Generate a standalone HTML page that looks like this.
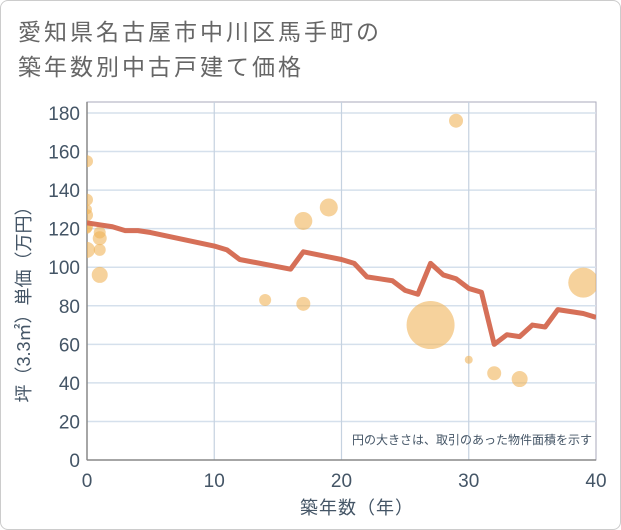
<!DOCTYPE html>
<html><head><meta charset="utf-8"><style>
body{margin:0;background:#fff;font-family:"Liberation Sans","Noto Sans CJK JP",sans-serif}
#wrap{position:relative;width:619px;height:528px;border:1px solid #ccc;border-radius:8px;overflow:hidden;background:#fff}
#title{position:absolute;left:17px;top:14px;font-size:23px;line-height:35px;color:#666;letter-spacing:3px}
</style></head><body>
<div id="wrap">
<div id="title">愛知県名古屋市中川区馬手町の<br>築年数別中古戸建て価格</div>
<svg id="chart" width="621" height="530" style="position:absolute;left:-1px;top:-1px"></svg>
</div>
<script>
const xTicks=[0,10,20,30,40];
const yTicks=[0,20,40,60,80,100,120,140,160,180];
const lineX=[0,1,2,3,4,5,10,11,12,16,17,20,21,22,24,25,26,27,28,29,30,31,32,33,34,35,36,37,39,40];
const lineY=[123,122,121,119,119,118,111,109,104,99,108,104,102,95,93,88,86,102,96,94,89,87,60,65,64,70,69,78,76,74];
const bubX=[0,0,0,0,0,0,0,1,1,1,1,14,17,17,19,27,29,30,32,34,39];
const bubY=[155,135,130,127,121,120,109,118,115,109,96,83,124,81,131,70,176,52,45,42,92];
const bubR=[6,6,5,6,6,5,8,6,7,6,8,6,9,7,9,24,7,4,7,8,15];
const NS="http://www.w3.org/2000/svg";
const svg=document.getElementById('chart');
const X0=87,X1=596,Y0=460,Y1=113;
const sx=v=>X0+(v-0)/(40-0)*(X1-X0);
const sy=v=>Y0-(v-0)/(180-0)*(Y0-Y1);
function mk(t,a){const e=document.createElementNS(NS,t);for(const k in a)e.setAttribute(k,a[k]);svg.appendChild(e);return e;}
let e;
e=mk('rect',{x:X0,y:102,width:X1-X0,height:Y0-102,fill:'#fff',stroke:'#aab','stroke-width':1});


yTicks.forEach(v=>{
 if(v>0){e=mk('line',{x1:X0,x2:X1,y1:sy(v),y2:sy(v),stroke:'#d5e0ec','stroke-width':1.5});
 
 }
 e=mk('text',{x:X0-7,y:sy(v)+7,'text-anchor':'end','font-size':19,fill:'#445566'});e.textContent=v;
 
 
});
xTicks.forEach(v=>{
 if(v>0&&v<40){e=mk('line',{x1:sx(v),x2:sx(v),y1:102,y2:Y0,stroke:'#c5d2e0','stroke-width':1.2});
 
 }
 e=mk('text',{x:sx(v),y:Y0+27,'text-anchor':'middle','font-size':19,fill:'#445566'});e.textContent=v;
 
 
});
e=mk('line',{x1:X0,x2:X0,y1:102,y2:Y0,stroke:'#888','stroke-width':1.5});


e=mk('line',{x1:X0,x2:X1,y1:Y0,y2:Y0,stroke:'#888','stroke-width':1.5});


const g=document.createElementNS(NS,'g');g.setAttribute('clip-path','url(#clp)');
const defs=mk('defs',{});defs.innerHTML='<clipPath id="clp"><rect x="'+X0+'" y="102" width="'+(X1-X0)+'" height="'+(Y0-102)+'"/></clipPath>';
svg.appendChild(g);
bubX.forEach((x,i)=>{
 const c=document.createElementNS(NS,'circle');
 c.setAttribute('cx',sx(x));c.setAttribute('cy',sy(bubY[i]));c.setAttribute('r',bubR[i]);
 c.setAttribute('fill','rgba(240,180,90,0.6)');
 
 
 g.appendChild(c);
});
const p=document.createElementNS(NS,'polyline');
p.setAttribute('points',lineX.map((x,i)=>sx(x)+','+sy(lineY[i])).join(' '));
p.setAttribute('fill','none');p.setAttribute('stroke','#d4684f');p.setAttribute('stroke-width',5);p.setAttribute('stroke-linejoin','round');p.setAttribute('opacity','0.95');


g.appendChild(p);
e=mk('text',{x:592,y:444,'text-anchor':'end','font-size':12,fill:'#445566'});e.textContent='円の大きさは、取引のあった物件面積を示す';


e=mk('text',{x:357,y:514,'text-anchor':'middle','font-size':18,fill:'#445566','letter-spacing':1});e.textContent='築年数（年）';


e=mk('text',{x:0,y:0,'text-anchor':'middle','font-size':18,fill:'#445566',transform:'translate(30,300) rotate(-90)'});e.textContent='坪（3.3㎡）単価（万円）';


</script>
</body></html>
